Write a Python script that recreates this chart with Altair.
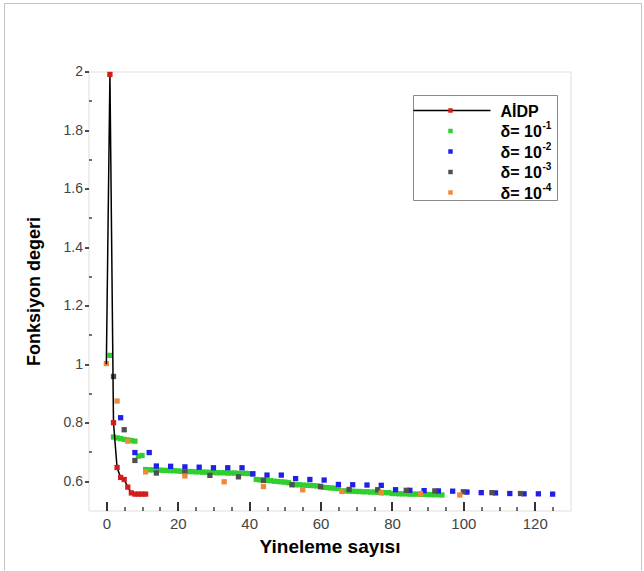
import altair as alt
import pandas as pd

FONT = "Liberation Sans"

# ---------------- data ----------------
series_names = ["AİDP", "δ= 10-1", "δ= 10-2", "δ= 10-3", "δ= 10-4"]
series_colors = ["#d41c1c", "#2fcf2f", "#1f1fe6", "#505050", "#f0883a"]

aidp_x = [0, 1, 2, 3, 4, 5, 6, 7, 8, 9, 10, 11]
aidp_y = [1.0, 1.99, 0.80, 0.647, 0.613, 0.606, 0.58, 0.56, 0.556, 0.556, 0.556, 0.556]

d1_x = list(range(1, 95))
d1_y = [1.03,
        0.751, 0.748, 0.746, 0.743, 0.741, 0.739, 0.737,
        0.686, 0.688,
        0.640, 0.639, 0.639, 0.638, 0.638, 0.637, 0.637, 0.636, 0.636, 0.635,
        0.634, 0.634, 0.633, 0.633, 0.632, 0.632, 0.631, 0.631, 0.630, 0.630,
        0.629, 0.629, 0.629, 0.628, 0.628, 0.628, 0.627, 0.627, 0.627, 0.626, 0.626,
        0.606, 0.605, 0.604, 0.603, 0.602, 0.600, 0.599, 0.598, 0.597, 0.595,
        0.589, 0.588, 0.588, 0.587, 0.586, 0.586, 0.585, 0.584, 0.583,
        0.579, 0.578, 0.577, 0.576, 0.575,
        0.567, 0.567, 0.566, 0.566, 0.565, 0.565, 0.564, 0.564, 0.563, 0.563, 0.562, 0.562, 0.561, 0.561,
        0.558, 0.558, 0.557, 0.557, 0.557, 0.556, 0.556, 0.556, 0.555, 0.555, 0.555, 0.554, 0.554, 0.554, 0.553]

d2_x = [4, 8, 12, 14, 18, 22, 26, 30, 34, 38, 41, 45, 49, 53, 57, 61, 65, 69, 73, 77,
        81, 85, 89, 93, 97, 101, 105, 109, 113, 117, 121, 125]
d2_y = [0.817, 0.698, 0.698, 0.652, 0.651, 0.649, 0.648, 0.646, 0.646, 0.646, 0.625, 0.621,
        0.621, 0.609, 0.606, 0.604, 0.589, 0.588, 0.587, 0.586, 0.571, 0.569, 0.568, 0.567,
        0.566, 0.563, 0.561, 0.560, 0.558, 0.557, 0.557, 0.556]

d3_x = [2, 5, 8, 14, 22, 29, 37, 44, 52, 60, 68, 76, 84, 92, 100, 108, 116]
d3_y = [0.958, 0.776, 0.671, 0.628, 0.630, 0.620, 0.615, 0.603, 0.588, 0.581, 0.572,
        0.571, 0.569, 0.567, 0.564, 0.561, 0.558]

d4_x = [0, 3, 6, 11, 22, 33, 44, 55, 66, 77, 88, 99]
d4_y = [1.002, 0.874, 0.737, 0.632, 0.618, 0.598, 0.582, 0.571, 0.565, 0.560, 0.557, 0.553]

x_major = [0, 20, 40, 60, 80, 100, 120]
x_minor = [5, 10, 15, 25, 30, 35, 45, 50, 55, 65, 70, 75, 85, 90, 95, 105, 110, 115, 125]
y_major = [0.6, 0.8, 1.0, 1.2, 1.4, 1.6, 1.8, 2.0]
y_minor = [0.7, 0.9, 1.1, 1.3, 1.5, 1.7, 1.9]

legend_labels = ["AİDP", "δ= 10", "δ= 10", "δ= 10", "δ= 10"]
legend_sups = ["", "-1", "-2", "-3", "-4"]

# ---------------- tables ----------------
aidp_df = pd.DataFrame({"iter": aidp_x, "val": aidp_y})
aidp_pts = aidp_df[aidp_df["iter"] >= 1]
pts = pd.concat([
    pd.DataFrame({"iter": d1_x, "val": d1_y, "series": series_names[1]}),
    pd.DataFrame({"iter": d2_x, "val": d2_y, "series": series_names[2]}),
    pd.DataFrame({"iter": d3_x, "val": d3_y, "series": series_names[3]}),
    pd.DataFrame({"iter": d4_x, "val": d4_y, "series": series_names[4]}),
], ignore_index=True)

W, H = 482, 439
x_scale = alt.Scale(domain=[-5, 130], nice=False, zero=False)
y_scale = alt.Scale(domain=[0.5, 2.0], nice=False, zero=False)
color_scale = alt.Scale(domain=series_names, range=series_colors)

x_main_axis = alt.Axis(orient="bottom", values=x_major, domain=False, grid=False,
                       tickSize=alt.ExprRef(expr="-9"), tickColor="black", tickWidth=1.6,
                       labelPadding=15, labelFont=FONT, labelFontSize=15, labelColor="#444444",
                       title="Yineleme sayısı", titleFont=FONT, titleFontSize=19,
                       titleFontWeight="bold", titleColor="black", titlePadding=6)
y_main_axis = alt.Axis(orient="left", values=y_major, format=".1~f", domain=False, grid=False,
                       tickSize=4, tickColor="black", tickWidth=1.4,
                       labelPadding=2, labelFont=FONT, labelFontSize=14, labelColor="#444444",
                       title="Fonksiyon degeri", titleFont=FONT, titleFontSize=18,
                       titleFontWeight="bold", titleColor="black", titlePadding=20)
x_minor_axis = alt.Axis(orient="bottom", values=x_minor, domain=False, grid=False, labels=False,
                        tickSize=alt.ExprRef(expr="-4"), tickColor="black", tickWidth=1.1,
                        title=None)
y_minor_axis = alt.Axis(orient="left", values=y_minor, domain=False, grid=False, labels=False,
                        tickSize=alt.ExprRef(expr="-3"), tickColor="black", tickWidth=1.1,
                        title=None)

points = alt.Chart(pts).mark_square(size=28, opacity=1).encode(
    x=alt.X("iter:Q", scale=x_scale, axis=x_minor_axis),
    y=alt.Y("val:Q", scale=y_scale, axis=y_minor_axis),
    color=alt.Color("series:N", scale=color_scale, legend=None),
)

line = alt.Chart(aidp_df).mark_line(color="black", strokeWidth=1.5).encode(
    x=alt.X("iter:Q", scale=x_scale, axis=x_main_axis),
    y=alt.Y("val:Q", scale=y_scale, axis=y_main_axis),
    order="iter:Q",
)

red = alt.Chart(aidp_pts).mark_square(size=28, opacity=1, color=series_colors[0]).encode(
    x=alt.X("iter:Q", scale=x_scale, axis=None),
    y=alt.Y("val:Q", scale=y_scale, axis=None),
)

one = alt.Data(values=[{"k": 1}])

# ---------------- legend (drawn) ----------------
LX0, LX1, LY0, LY1 = 325, 469, 24, 129
row_y = [39, 59.5, 80, 100.5, 121]
sym_x = 362
lab_x = 412
sup_dx = 42

legend_layers = [
    alt.Chart(one).mark_rect(fill="white", stroke="#8a8a8a", strokeWidth=1).encode(
        x=alt.value(LX0), x2=alt.value(LX1), y=alt.value(LY0), y2=alt.value(LY1)),
    alt.Chart(one).mark_rule(color="black", strokeWidth=1.5).encode(
        x=alt.value(LX0), x2=alt.value(402), y=alt.value(row_y[0])),
]
for i in range(5):
    legend_layers.append(
        alt.Chart(one).mark_square(size=20, opacity=1, color=series_colors[i]).encode(
            x=alt.value(sym_x), y=alt.value(row_y[i])))
    legend_layers.append(
        alt.Chart(one).mark_text(align="left", baseline="middle", font=FONT, fontSize=16,
                                 fontWeight="bold", color="black").encode(
            x=alt.value(lab_x), y=alt.value(row_y[i] + 1), text=alt.value(legend_labels[i])))
    if legend_sups[i]:
        legend_layers.append(
            alt.Chart(one).mark_text(align="left", baseline="middle", font=FONT, fontSize=10,
                                     fontWeight="bold", color="black").encode(
                x=alt.value(lab_x + sup_dx), y=alt.value(row_y[i] - 5),
                text=alt.value(legend_sups[i])))

# ---------------- outer frame ----------------
frame = [
    alt.Chart(one).mark_rule(color="#c4c4c4", strokeWidth=1).encode(
        x=alt.value(-84), x2=alt.value(553), y=alt.value(-68)),
    alt.Chart(one).mark_rule(color="#c4c4c4", strokeWidth=1).encode(
        x=alt.value(-84), y=alt.value(-68), y2=alt.value(499)),
    alt.Chart(one).mark_rule(color="#c4c4c4", strokeWidth=1).encode(
        x=alt.value(553), y=alt.value(-68), y2=alt.value(499)),
]

chart = alt.layer(points, line, red, *legend_layers, *frame).resolve_axis(
    x="independent", y="independent"
).properties(
    width=W, height=H,
    padding={"left": 3.5, "top": 2.5, "right": 0, "bottom": 0},
).configure_view(stroke="black", strokeWidth=2).configure(background="white")

chart.save("out.html", embed_options={"renderer": "svg", "actions": False})
